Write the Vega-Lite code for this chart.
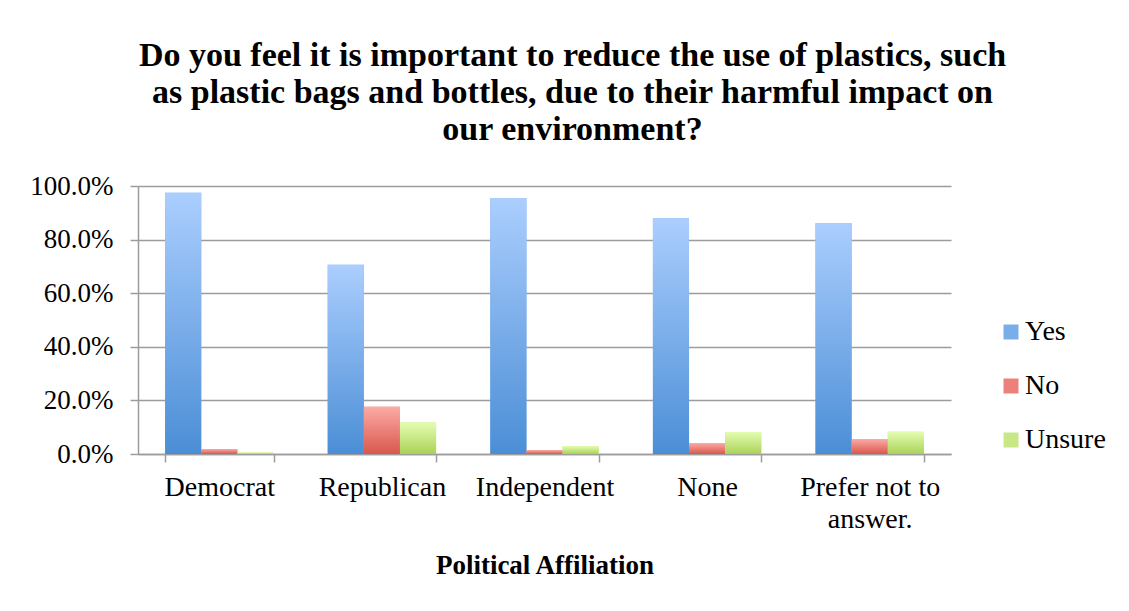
{
  "$schema": "https://vega.github.io/schema/vega-lite/v6.json",
  "autosize": {"type": "none"},
  "width": 813,
  "height": 268,
  "padding": {"left": 138, "top": 186, "right": 178, "bottom": 157},
  "background": "white",
  "title": {
    "text": [
      "Do you feel it is important to reduce the use of plastics, such",
      "as plastic bags and bottles, due to their harmful impact on",
      "our environment?"
    ],
    "anchor": "middle",
    "dx": 28,
    "offset": 25,
    "font": "Liberation Serif",
    "fontSize": 34,
    "fontWeight": "bold",
    "lineHeight": 37,
    "color": "black"
  },
  "data": {
    "values": [
      {"Affiliation": "Democrat", "Response": "Yes", "Percent": 0.975},
      {"Affiliation": "Democrat", "Response": "No", "Percent": 0.019},
      {"Affiliation": "Democrat", "Response": "Unsure", "Percent": 0.006},
      {"Affiliation": "Republican", "Response": "Yes", "Percent": 0.706},
      {"Affiliation": "Republican", "Response": "No", "Percent": 0.176},
      {"Affiliation": "Republican", "Response": "Unsure", "Percent": 0.118},
      {"Affiliation": "Independent", "Response": "Yes", "Percent": 0.955},
      {"Affiliation": "Independent", "Response": "No", "Percent": 0.015},
      {"Affiliation": "Independent", "Response": "Unsure", "Percent": 0.03},
      {"Affiliation": "None", "Response": "Yes", "Percent": 0.88},
      {"Affiliation": "None", "Response": "No", "Percent": 0.041},
      {"Affiliation": "None", "Response": "Unsure", "Percent": 0.082},
      {"Affiliation": "Prefer not to answer.", "Response": "Yes", "Percent": 0.861},
      {"Affiliation": "Prefer not to answer.", "Response": "No", "Percent": 0.056},
      {"Affiliation": "Prefer not to answer.", "Response": "Unsure", "Percent": 0.083}
    ]
  },
  "encoding": {
    "x": {
      "field": "Affiliation",
      "type": "nominal",
      "sort": null,
      "scale": {"paddingInner": 0.3333, "paddingOuter": 0.1667},
      "axis": {
        "title": "Political Affiliation",
        "titleFont": "Liberation Serif",
        "titleFontSize": 27,
        "titleFontWeight": "bold",
        "titleColor": "black",
        "titlePadding": 19,
        "labelFont": "Liberation Serif",
        "labelFontSize": 28,
        "labelColor": "black",
        "labelAngle": 0,
        "labelPadding": 11,
        "labelLineHeight": 32,
        "labelExpr": "datum.value == 'Prefer not to answer.' ? ['Prefer not to', 'answer.'] : datum.label",
        "labelBound": false,
        "tickBand": "extent",
        "tickSize": 8,
        "tickColor": "#9c9c9c",
        "tickWidth": 1.5,
        "domainColor": "#9c9c9c",
        "domainWidth": 1.5,
        "grid": false
      }
    },
    "xOffset": {
      "field": "Response",
      "type": "nominal",
      "scale": {"domain": ["Yes", "No", "Unsure"], "paddingInner": 0, "paddingOuter": 0}
    },
    "y": {
      "field": "Percent",
      "type": "quantitative",
      "scale": {"domain": [0, 1], "nice": false},
      "axis": {
        "title": null,
        "values": [0, 0.2, 0.4, 0.6, 0.8, 1],
        "format": ".1%",
        "labelFont": "Liberation Serif",
        "labelFontSize": 27,
        "labelColor": "black",
        "labelPadding": 17,
        "tickSize": 8,
        "tickColor": "#9c9c9c",
        "tickWidth": 1.5,
        "domainColor": "#9c9c9c",
        "domainWidth": 1.5,
        "gridColor": "#9c9c9c",
        "gridWidth": 1.5
      }
    }
  },
  "layer": [
    {
      "mark": {"type": "bar"},
      "encoding": {
        "color": {
          "field": "Response",
          "type": "nominal",
          "scale": {"domain": ["Yes", "No", "Unsure"], "range": ["#7aaee9", "#ec8179", "#c8e785"]},
          "legend": {
            "title": null,
            "orient": "none",
            "legendX": 859,
            "legendY": 132,
            "symbolType": "square",
            "symbolSize": 225,
            "symbolStrokeWidth": 0,
            "labelFont": "Liberation Serif",
            "labelFontSize": 28,
            "labelColor": "black",
            "labelOffset": 0,
            "rowPadding": 26,
            "padding": 0,
            "encode": {
              "symbols": {
                "update": {
                  "fill": {
                    "signal": "datum.value == 'Yes' ? {gradient: 'linear', x1: 0, y1: 0, x2: 0, y2: 1, stops: [{offset: 0, color: '#abcefe'}, {offset: 1, color: '#4b8ed6'}]} : datum.value == 'No' ? {gradient: 'linear', x1: 0, y1: 0, x2: 0, y2: 1, stops: [{offset: 0, color: '#fbaba6'}, {offset: 1, color: '#d9574c'}]} : {gradient: 'linear', x1: 0, y1: 0, x2: 0, y2: 1, stops: [{offset: 0, color: '#e4fdb1'}, {offset: 1, color: '#aad258'}]}"
                  }
                }
              }
            }
          }
        }
      }
    },
    {
      "transform": [{"filter": "datum.Response == 'Yes'"}],
      "mark": {
        "type": "bar",
        "color": {"gradient": "linear", "x1": 0, "y1": 0, "x2": 0, "y2": 1,
          "stops": [{"offset": 0, "color": "#abcefe"}, {"offset": 1, "color": "#4b8ed6"}]}
      }
    },
    {
      "transform": [{"filter": "datum.Response == 'No'"}],
      "mark": {
        "type": "bar",
        "color": {"gradient": "linear", "x1": 0, "y1": 0, "x2": 0, "y2": 1,
          "stops": [{"offset": 0, "color": "#fbaba6"}, {"offset": 1, "color": "#d9574c"}]}
      }
    },
    {
      "transform": [{"filter": "datum.Response == 'Unsure'"}],
      "mark": {
        "type": "bar",
        "color": {"gradient": "linear", "x1": 0, "y1": 0, "x2": 0, "y2": 1,
          "stops": [{"offset": 0, "color": "#e4fdb1"}, {"offset": 1, "color": "#aad258"}]}
      }
    }
  ],
  "config": {
    "view": {"stroke": null}
  }
}
